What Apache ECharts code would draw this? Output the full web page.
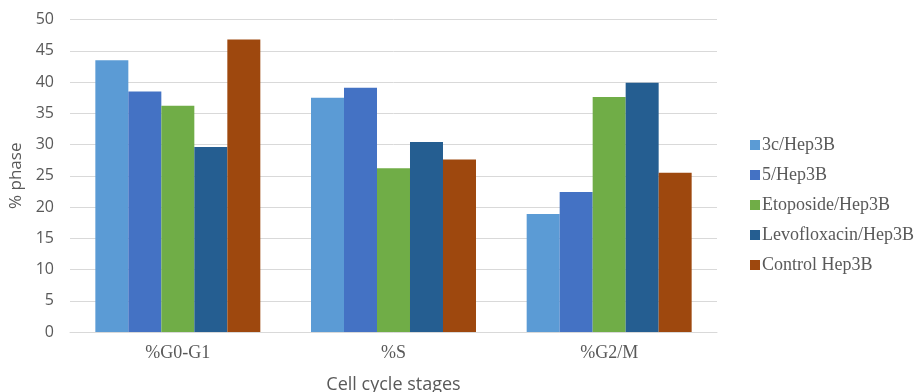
<!DOCTYPE html>
<html>
<head>
<meta charset="utf-8">
<script src="https://cdn.jsdelivr.net/npm/echarts@6/dist/echarts.min.js"></script>
<style>
  html, body { margin: 0; padding: 0; background: #fff; }
  #chart { width: 919px; height: 392px; }
</style>
</head>
<body>
<div id="chart"></div>
<script>
// Cell cycle phase distribution per treatment (percent of cells)
const stages = ['%G0-G1', '%S', '%G2/M'];
const seriesNames = ['3c/Hep3B', '5/Hep3B', 'Etoposide/Hep3B', 'Levofloxacin/Hep3B', 'Control Hep3B'];
const values3c = [43.5, 37.5, 18.9];
const values5 = [38.5, 39.1, 22.4];
const valuesEtoposide = [36.2, 26.2, 37.6];
const valuesLevofloxacin = [29.6, 30.4, 39.9];
const valuesControl = [46.8, 27.6, 25.5];
const yTicks = [0, 5, 10, 15, 20, 25, 30, 35, 40, 45, 50];

const colors = ['#5B9BD5', '#4472C4', '#70AD47', '#255E91', '#9E480E'];
const allValues = [values3c, values5, valuesEtoposide, valuesLevofloxacin, valuesControl];

const chart = echarts.init(document.getElementById('chart'));
chart.setOption({
  animation: false,
  color: colors,
  grid: { left: 70, right: 202, top: 19.5, bottom: 60, outerBoundsMode: 'none', containLabel: false },
  legend: {
    orient: 'vertical',
    left: 745,
    top: 131,
    itemWidth: 10,
    itemHeight: 10,
    itemGap: 12,
    icon: 'rect',
    textStyle: { fontFamily: 'Liberation Serif', fontSize: 18, color: '#595959', lineHeight: 18, padding: [0, 0, 0, -3] },
    data: seriesNames
  },
  xAxis: {
    type: 'category',
    data: stages,
    name: 'Cell cycle stages',
    nameLocation: 'middle',
    nameGap: 44,
    nameTextStyle: { fontFamily: 'Open Sans', fontSize: 18, color: '#595959' },
    axisLine: { lineStyle: { color: '#D9D9D9', width: 1 } },
    axisTick: { show: false },
    axisLabel: { fontFamily: 'Liberation Serif', fontSize: 18, color: '#595959', margin: 12 }
  },
  yAxis: {
    type: 'value',
    min: yTicks[0],
    max: yTicks[yTicks.length - 1],
    interval: 5,
    name: '% phase',
    nameLocation: 'middle',
    nameGap: 44,
    nameTextStyle: { fontFamily: 'Open Sans', fontSize: 17, color: '#595959' },
    axisLine: { show: false },
    axisTick: { show: false },
    axisLabel: { fontFamily: 'Open Sans', fontSize: 16, color: '#595959', margin: 16 },
    splitLine: { lineStyle: { color: '#D9D9D9', width: 1 } }
  },
  series: seriesNames.map((name, i) => ({
    name: name,
    type: 'bar',
    data: allValues[i],
    barGap: '0%',
    barCategoryGap: '23.5%'
  }))
});
</script>
</body>
</html>
